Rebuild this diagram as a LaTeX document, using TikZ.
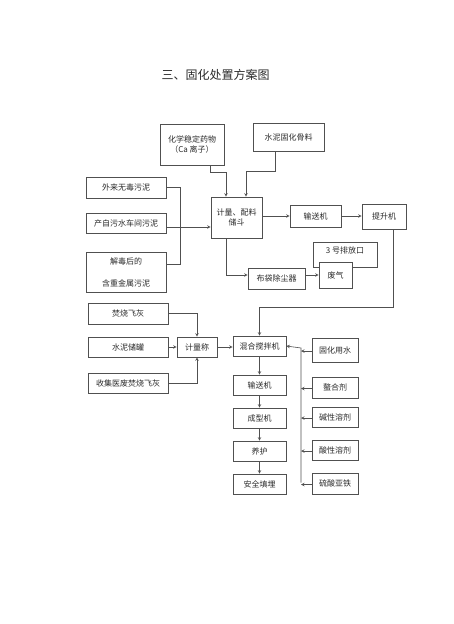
\documentclass[tikz,border=0pt]{standalone}
\usepackage{fontspec}
\setmainfont{Noto Sans CJK SC}
\usetikzlibrary{positioning, calc}

\begin{document}
\begin{tikzpicture}[x=1pt, y=-1pt, >=stealth,
  box/.style={draw=inkline, line width=0.6pt, fill=white, text=inktext, inner sep=1pt, align=center, font=\fontsize{8}{10}\selectfont},
  link/.style={->, draw=inkline, line width=0.6pt}]
% --- PAGINA E CORES ---
\definecolor{inkline}{HTML}{505050}
\definecolor{inktext}{HTML}{2A2A2A}
\useasboundingbox (0,0) rectangle (454,624);
\fill[white] (0,0) rectangle (454,624);

% LAYER 1: titulo
\node[text=inktext, font=\fontsize{12}{14}\selectfont] (titulo) at (215.5,75) {三、固化处置方案图};

% LAYER 2: materiais de entrada e储斗
\node[box, minimum width=64pt, minimum height=41pt] (chem) at (192,144.5) {化学稳定药物\\（Ca 离子）};
\node[box, minimum width=71pt, minimum height=28pt] (aggr) at (288.5,137) {水泥固化骨料};
\node[box, minimum width=80pt, minimum height=21pt] (sludgeA) at (126,187.5) {外来无毒污泥};
\node[box, minimum width=80pt, minimum height=20pt] (sludgeB) at (126,223) {产自污水车间污泥};
\node[box, minimum width=80pt, minimum height=40pt] (sludgeC) at (126,272) {解毒后的\\[12pt]含重金属污泥};
\node[box, minimum width=51pt, minimum height=41pt] (hopper) at (236.5,217.5) {计量、配料\\储斗};
\node[box, minimum width=51pt, minimum height=22pt] (convA) at (315.5,216) {输送机};
\node[box, minimum width=44pt, minimum height=25pt] (lift) at (384,216.5) {提升机};
\node[box, minimum width=64pt, minimum height=25pt, text depth=9pt] (outlet) at (345,254.5) {3 号排放口};
\node[box, minimum width=33pt, minimum height=26pt] (gas) at (335.5,275) {废气};
\node[box, minimum width=57pt, minimum height=21pt] (dust) at (276.5,278.5) {布袋除尘器};

% LAYER 3:飞灰 e linha de mistura
\node[box, minimum width=80pt, minimum height=21pt] (flyash) at (128,313.5) {焚烧飞灰};
\node[box, minimum width=80pt, minimum height=20pt] (tank) at (128,347) {水泥储罐};
\node[box, minimum width=80pt, minimum height=20pt] (medash) at (128,383) {收集医废焚烧飞灰};
\node[box, minimum width=40pt, minimum height=20pt] (scale) at (197,347) {计量称};
\node[box, minimum width=53pt, minimum height=20pt] (mixer) at (259.5,346) {混合搅拌机};
\node[box, minimum width=53pt, minimum height=20pt] (convB) at (259.5,385) {输送机};
\node[box, minimum width=53pt, minimum height=20pt] (former) at (259.5,418) {成型机};
\node[box, minimum width=53pt, minimum height=20pt] (curing) at (259.5,451) {养护};
\node[box, minimum width=53pt, minimum height=20pt] (landfill) at (259.5,484) {安全填埋};

% LAYER 4: aditivos
\node[box, minimum width=46pt, minimum height=24pt] (water) at (335,350) {固化用水};
\node[box, minimum width=46pt, minimum height=21pt] (chelant) at (335,387.5) {螯合剂};
\node[box, minimum width=46pt, minimum height=20pt] (alkali) at (335,417) {碱性溶剂};
\node[box, minimum width=46pt, minimum height=20pt] (acid) at (335,450) {酸性溶剂};
\node[box, minimum width=46pt, minimum height=21pt] (ferrous) at (335,483.5) {硫酸亚铁};
\coordinate (bus) at (301,346);

% LAYER 5: ligacoes
\draw[link] ([xshift=18pt]chem.south) -- ++(0,7) -| ([xshift=-10.5pt]hopper.north);
\draw[link] ([xshift=-13.5pt]aggr.south) -- ++(0,20) -| ([xshift=9.5pt]hopper.north);
\draw[draw=inkline, line width=0.6pt] (sludgeA.east) -- ++(14,0) |- ([yshift=8pt]sludgeC.east);
\draw[link] ([yshift=-4pt]sludgeB.east) -- ([yshift=-4pt]sludgeB.east -| hopper.west);
\draw[link] (hopper.east |- convA.west) -- (convA.west);
\draw[link] (convA.east) -- (convA.east -| lift.west);
\draw[link] ([xshift=-10.5pt]hopper.south) |- ([yshift=3.5pt]dust.west);
\draw[link] ([yshift=3.5pt]dust.east) -- ([yshift=3.5pt]dust.east -| gas.west);
\draw[link] ([xshift=9pt]lift.south) -- ++(0,78) -| (mixer.north);

\draw[link] (flyash.east) -| (scale.north);
\draw[link] (tank.east) -- (scale.west);
\draw[link] (medash.east) -| (scale.south);
\draw[link] (scale.east) -- (scale.east -| mixer.west);
\draw[link] (mixer.south) -- (convB.north);
\draw[link] (convB.south) -- (former.north);
\draw[link] (former.south) -- (curing.north);
\draw[link] (curing.south) -- (landfill.north);

\draw[link] ([yshift=1pt]ferrous.west -| bus) -- ([yshift=-2pt]bus) -- (bus -| mixer.east);
\foreach \add in {water, chelant, alkali, acid, ferrous}
  \draw[link] ([yshift=-1pt]\add.west) -- ([yshift=-1pt]\add.west -| bus);
\end{tikzpicture}
\end{document}
